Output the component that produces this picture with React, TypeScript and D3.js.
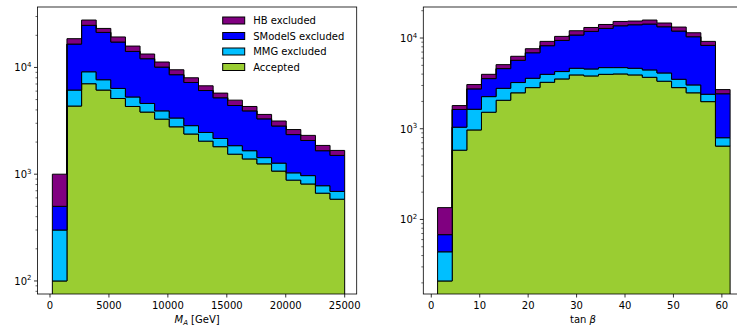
import React, { useEffect, useRef } from "react";
import * as d3 from "d3";

// stacking order, bottom first
const seriesNames = ["Accepted", "MMG excluded", "SModelS excluded", "HB excluded"];
const seriesColors = ["#9acd32", "#00bfff", "#0000ff", "#800080"];

// M_A histogram: 20 bins between these edges (GeV)
const maRange = [200, 25000];
const maAccepted = [100, 4350, 7040, 6140, 5120, 4310, 3820, 3280, 2780, 2380, 2040, 1810, 1540, 1390, 1250, 1070, 880, 810, 664, 583];
const maMMG = [200, 1790, 2070, 1530, 1240, 980, 780, 640, 580, 470, 420, 350, 310, 270, 180, 200, 150, 160, 116, 107];
const maSModelS = [200, 10420, 15690, 13630, 10940, 8840, 7470, 6160, 5190, 4380, 3620, 3040, 2550, 2260, 1870, 1560, 1320, 1100, 880, 810];
const maHB = [500, 2040, 3000, 1900, 2000, 1730, 1290, 1160, 960, 770, 650, 550, 540, 390, 330, 320, 270, 240, 200, 170];
const maTicks = [0, 5000, 10000, 15000, 20000, 25000];

// tan beta histogram: 20 bins
const tbRange = [1.3, 61.7];
const tbAccepted = [21, 580, 970, 1520, 2060, 2490, 2840, 3250, 3540, 3920, 3820, 3980, 4020, 3920, 3690, 3340, 2840, 2490, 1990, 644];
const tbMMG = [23, 460, 670, 740, 730, 740, 760, 730, 730, 720, 740, 740, 700, 720, 760, 780, 670, 550, 410, 152];
const tbSModelS = [24, 590, 1110, 1310, 1810, 2450, 3280, 4250, 5140, 6150, 7270, 8040, 8930, 9360, 9810, 9190, 8430, 7290, 5900, 1634];
const tbHB = [67, 170, 320, 410, 490, 610, 740, 950, 1010, 1240, 1240, 1340, 1580, 1380, 1520, 1320, 1270, 1100, 880, 270];
const tbTicks = [0, 10, 20, 30, 40, 50, 60];

const FONT = "DejaVu Sans, sans-serif";

function App() {
  const ref = useRef<SVGSVGElement>(null);

  useEffect(() => {
    drawChart();
  }, []);

  const drawChart = () => {
    const svg = d3.select(ref.current);
    svg.selectAll("*").remove();

    const top = 7, bottom = 294;

    const drawPanel = (id: string, left: number, right: number, xDomain: number[], binRange: number[],
      series: number[][], xTicks: number[], xLabel: "ma" | "tb", legend: boolean) => {

      const n = series[0].length;
      const edges = d3.range(n + 1).map(i => binRange[0] + i * (binRange[1] - binRange[0]) / n);

      // cumulative tops
      const cum: number[][] = [];
      series.forEach((vals, si) => {
        cum.push(vals.map((v, i) => (si === 0 ? 0 : cum[si - 1][i]) + v));
      });

      // log y limits with 5% margin like matplotlib
      const lmin = Math.log10(d3.min(cum[0]) as number);
      const lmax = Math.log10(d3.max(cum[cum.length - 1]) as number);
      const m = (lmax - lmin) * 0.05;
      const yMin = Math.pow(10, lmin - m), yMax = Math.pow(10, lmax + m);

      const x = d3.scaleLinear().domain(xDomain).range([left, right]);
      const y = d3.scaleLog().domain([yMin, yMax]).range([bottom, top]);

      const g = svg.append("g");
      g.append("clipPath").attr("id", id)
        .append("rect").attr("x", left).attr("y", top).attr("width", right - left).attr("height", bottom - top);

      const area = d3.area<{ x: number, lo: number, hi: number }>()
        .x(d => x(d.x))
        .y0(d => y(d.lo))
        .y1(d => y(d.hi))
        .curve(d3.curveStepAfter);

      const bars = g.append("g").attr("clip-path", `url(#${id})`);
      series.forEach((vals, si) => {
        const pts = edges.map((e, i) => {
          const k = Math.min(i, n - 1);
          return { x: e, lo: si === 0 ? yMin / 10 : cum[si - 1][k], hi: cum[si][k] };
        });
        bars.append("path")
          .attr("d", area(pts) as string)
          .attr("fill", seriesColors[si])
          .attr("stroke", "#000")
          .attr("stroke-width", 1)
          .attr("stroke-linejoin", "miter");
      });

      // spines
      g.append("rect")
        .attr("x", left).attr("y", top)
        .attr("width", right - left).attr("height", bottom - top)
        .attr("fill", "none").attr("stroke", "#000").attr("stroke-width", 0.8);

      // x ticks
      xTicks.forEach(t => {
        const px = x(t);
        g.append("line").attr("x1", px).attr("x2", px).attr("y1", bottom).attr("y2", bottom + 3.5)
          .attr("stroke", "#000").attr("stroke-width", 0.8);
        g.append("text").attr("x", px).attr("y", bottom + 15)
          .attr("text-anchor", "middle").attr("font-family", FONT).attr("font-size", 10)
          .text(String(t));
      });

      // y ticks, majors and minors
      const d0 = Math.floor(Math.log10(yMin)), d1 = Math.ceil(Math.log10(yMax));
      for (let d = d0; d <= d1; d++) {
        for (let k = 1; k <= 9; k++) {
          const v = k * Math.pow(10, d);
          if (v < yMin || v > yMax) continue;
          const py = y(v);
          const len = k === 1 ? 3.5 : 2;
          g.append("line").attr("x1", left - len).attr("x2", left).attr("y1", py).attr("y2", py)
            .attr("stroke", "#000").attr("stroke-width", k === 1 ? 0.8 : 0.6);
          if (k === 1) {
            const t = g.append("text").attr("x", left - 6).attr("y", py + 4)
              .attr("text-anchor", "end").attr("font-family", FONT).attr("font-size", 10);
            t.append("tspan").text("10");
            t.append("tspan").attr("dy", -4.5).attr("font-size", 7).text(String(d));
          }
        }
      }

      // x label
      const lbl = g.append("text").attr("x", (left + right) / 2).attr("y", bottom + 29)
        .attr("text-anchor", "middle").attr("font-family", FONT).attr("font-size", 10);
      if (xLabel === "ma") {
        lbl.append("tspan").attr("font-style", "italic").text("M");
        lbl.append("tspan").attr("font-style", "italic").attr("font-size", 7).attr("dy", 2).text("A");
        lbl.append("tspan").attr("dy", -2).text(" [GeV]");
      } else {
        lbl.append("tspan").text("tan ");
        lbl.append("tspan").attr("font-style", "italic").text("β");
      }

      if (legend) {
        const order = [3, 2, 1, 0];
        order.forEach((si, r) => {
          const cy = top + 13.5 + r * 15.5;
          g.append("rect").attr("x", right - 134).attr("y", cy - 3.5)
            .attr("width", 22).attr("height", 7)
            .attr("fill", seriesColors[si]).attr("stroke", "#000").attr("stroke-width", 1);
          g.append("text").attr("x", right - 103.5).attr("y", cy + 3.6)
            .attr("font-family", FONT).attr("font-size", 10)
            .text(seriesNames[si]);
        });
      }
    };

    drawPanel("clipMA", 37.5, 356.7, [-1060, 26020], maRange,
      [maAccepted, maMMG, maSModelS, maHB], maTicks, "ma", true);
    drawPanel("clipTB", 423.3, 742.7, [-1.65, 64.3], tbRange,
      [tbAccepted, tbMMG, tbSModelS, tbHB], tbTicks, "tb", false);
  };

  return (
    <svg ref={ref} width={737} height={333}
      style={{ position: "fixed", left: 0, top: 0, background: "#fff" }} />
  );
}

export default App;
